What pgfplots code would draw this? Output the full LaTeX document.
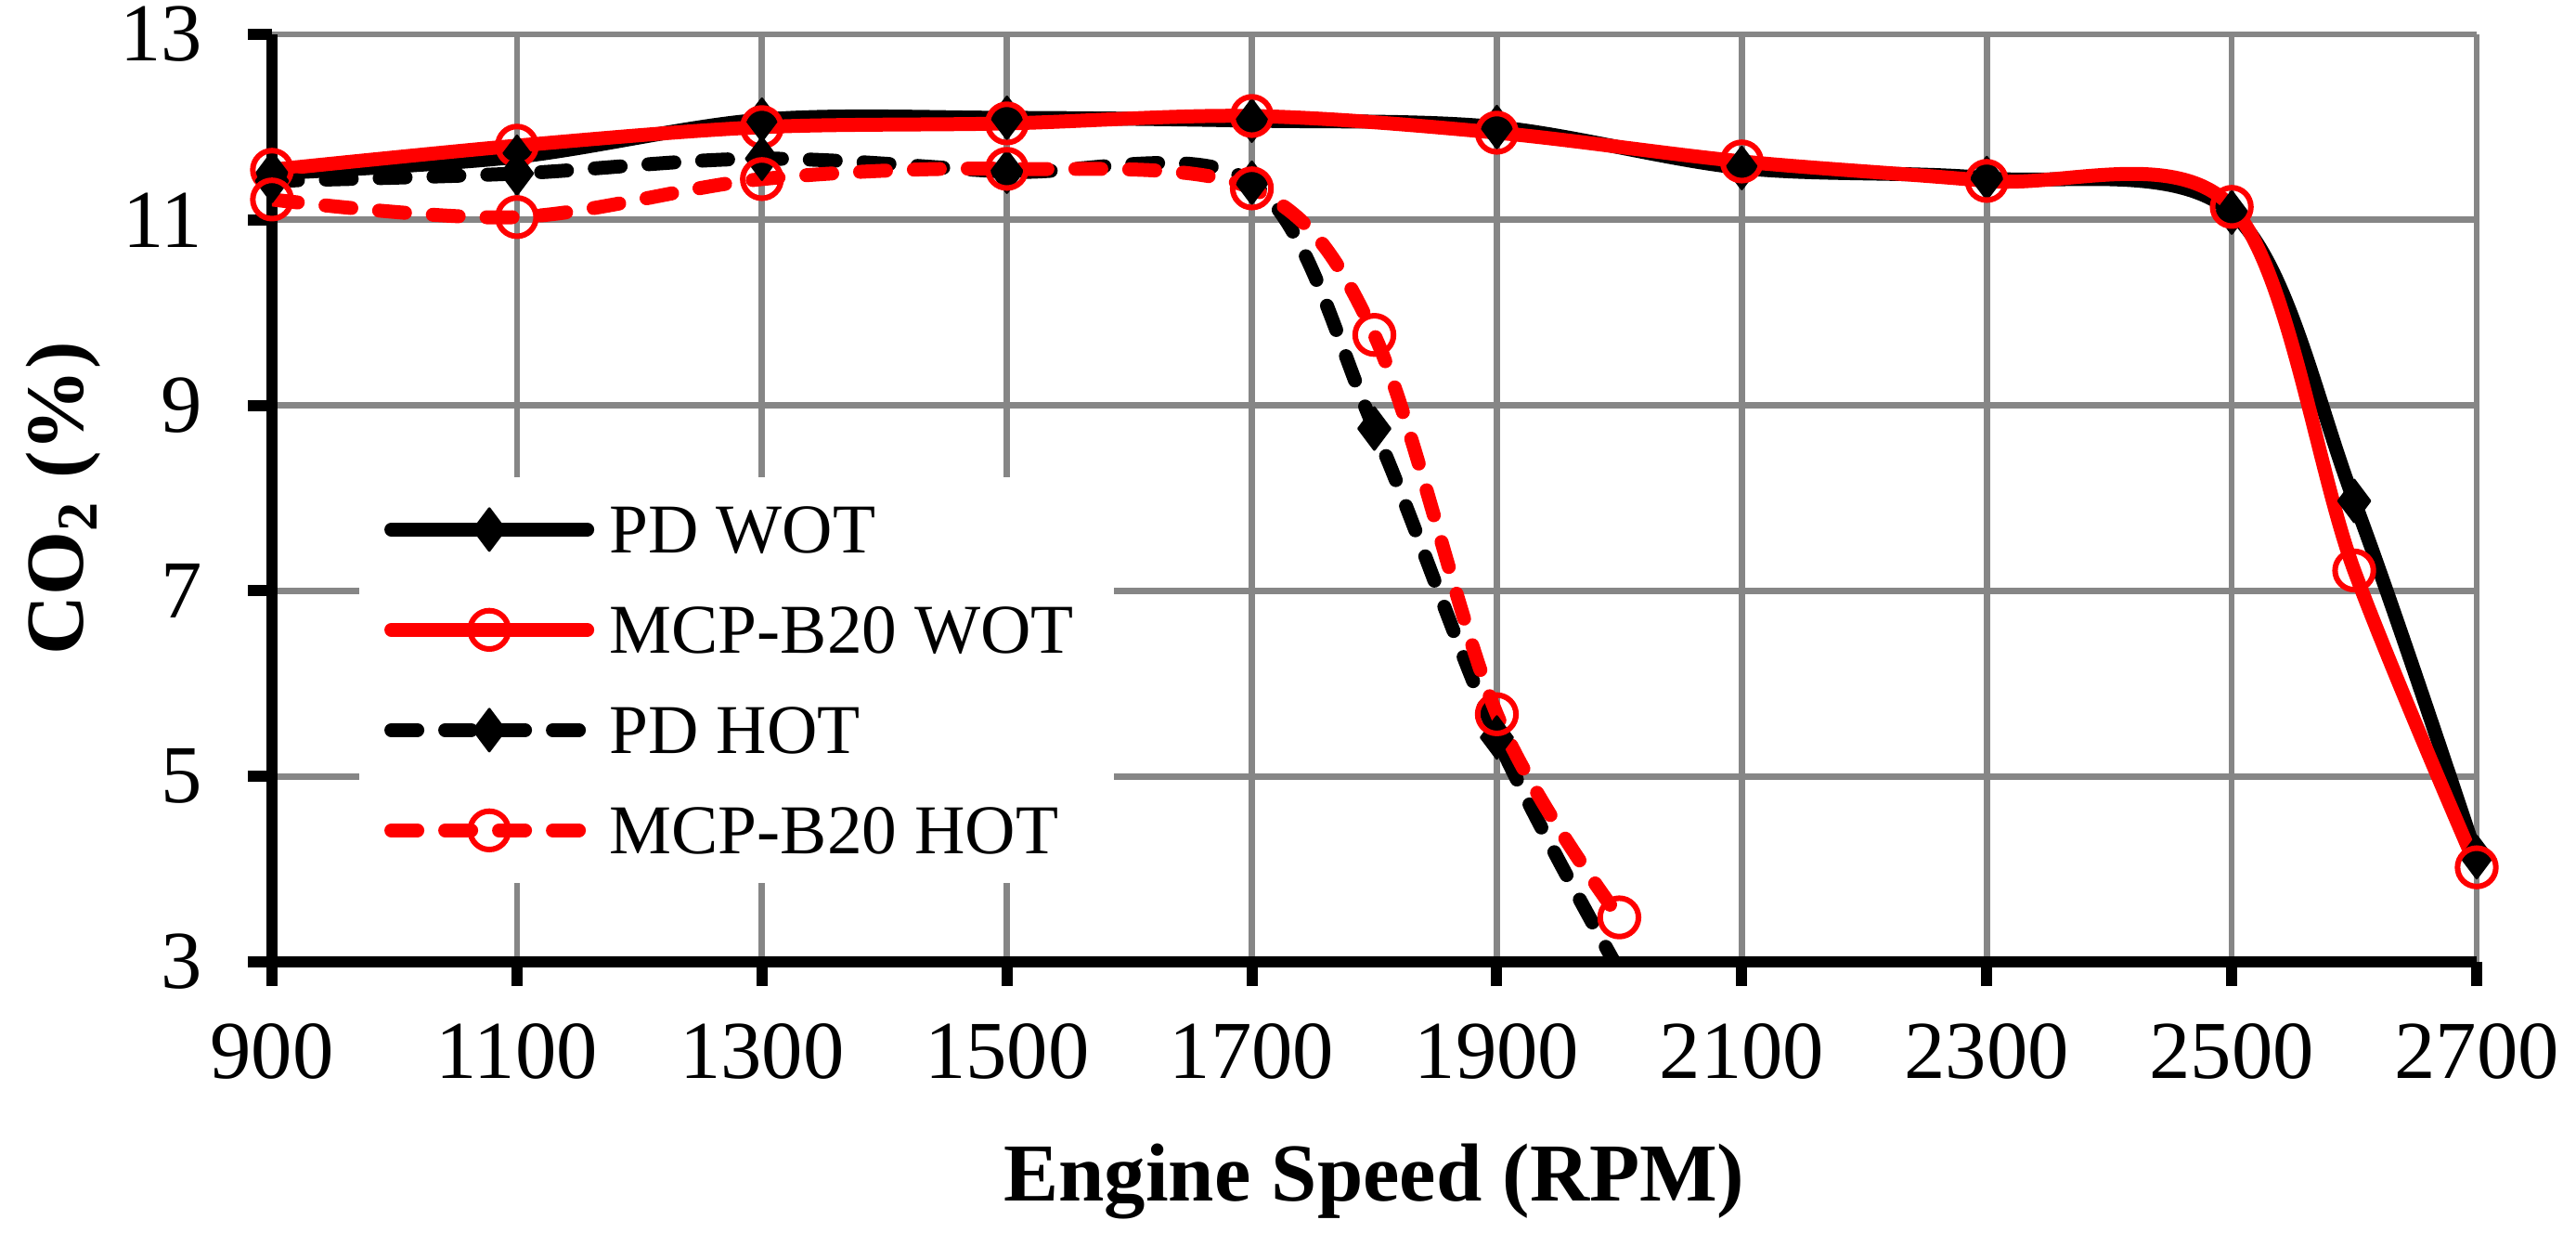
\documentclass[border=0pt]{standalone}
\usepackage{fontspec}
\setmainfont{Liberation Serif}
\usepackage{pgfplots}
\pgfplotsset{compat=1.18}
\definecolor{gridgray}{RGB}{134,134,134}
\definecolor{myred}{RGB}{255,0,0}
\begin{document}
\begin{tikzpicture}
\useasboundingbox (-43.95pt,-43.65pt) rectangle (372.3pt,155.4pt);
\begin{axis}[
  at={(0,0)}, anchor=south west,
  scale only axis, width=356.25pt, height=149.85pt,
  xmin=900, xmax=2700, ymin=3, ymax=13,
  xtick={900,1100,...,2700}, ytick={3,5,...,13},
  axis x line*=bottom, axis y line*=left,
  axis line style={-, black, line width=1.9pt},
  every outer x axis line/.append style={-},
  every outer y axis line/.append style={-},
  tick align=outside, major tick length=3.9pt,
  tick style={black, line width=1.8pt},
  grid=major, major grid style={gridgray, line width=1pt},
  /pgf/number format/assume math mode=true,
  /pgf/number format/1000 sep={},
  ticklabel style={font=\fontsize{13.3}{16}\selectfont},
  yticklabel style={anchor=east, xshift=-3.8pt},
  xticklabel style={anchor=north, yshift=-2.5pt},
  xlabel={Engine Speed (RPM)},
  ylabel={CO\textsubscript{2} (\%)},
  every axis x label/.style={at={(axis description cs:0.5,0)}, yshift=-38.55pt, anchor=base, font=\fontsize{13.3}{16}\selectfont\bfseries},
  every axis y label/.style={at={(axis description cs:0,0.5)}, xshift=-30.45pt, rotate=90, anchor=base, font=\fontsize{13.3}{16}\selectfont\bfseries},
  legend cell align=left,
  legend style={at={(0.0392,0.5242)}, anchor=north west, draw=none, fill=white,
    inner xsep=4.0pt, inner ysep=0.4pt, row sep=0pt,
    font=\fontsize{11.3}{13}\selectfont,
    nodes={inner xsep=2.5pt, inner ysep=0pt, text height=11.8pt, text depth=4.4pt}},
  legend image code/.code={
    \draw[#1, mark indices={2}] plot coordinates {(0pt,0pt) (15.825pt,0pt) (31.65pt,0pt)};},
  every axis plot/.append style={line width=2.25pt, line cap=round, line join=round, smooth, tension=0.55},
]
\addplot[black, mark=diamond*, mark size=3.4pt, mark options={solid, fill=black, line width=0.4pt}]
  coordinates {(900,11.50) (1100,11.68) (1300,12.08) (1500,12.10) (1700,12.07) (1900,12.00) (2100,11.56) (2300,11.45) (2500,11.08) (2600,7.97) (2700,4.13)};
\addlegendentry{PD WOT}
\addplot[myred, mark=o, mark size=3.1pt, mark options={solid, line width=0.9pt}]
  coordinates {(900,11.54) (1100,11.80) (1300,12.00) (1500,12.04) (1700,12.12) (1900,11.94) (2100,11.63) (2300,11.42) (2500,11.14) (2600,7.22) (2700,4.02)};
\addlegendentry{MCP-B20 WOT}
\addplot[black, dash pattern=on 4.2pt off 4.5pt, mark=diamond*, mark size=3.4pt, mark indices={1,2,3,4,5,6,7}, mark options={solid, fill=black, line width=0.4pt}]
  coordinates {(900,11.42) (1100,11.50) (1300,11.66) (1500,11.52) (1700,11.40) (1800,8.75) (1900,5.42) (2000,2.90)};
\addlegendentry{PD HOT}
\addplot[myred, dash pattern=on 4.2pt off 4.5pt, mark=o, mark size=3.1pt, mark options={solid, line width=0.9pt}]
  coordinates {(900,11.22) (1100,11.03) (1300,11.44) (1500,11.55) (1700,11.34) (1800,9.76) (1900,5.67) (2000,3.48)};
\addlegendentry{MCP-B20 HOT}
\end{axis}
\end{tikzpicture}
\end{document}
